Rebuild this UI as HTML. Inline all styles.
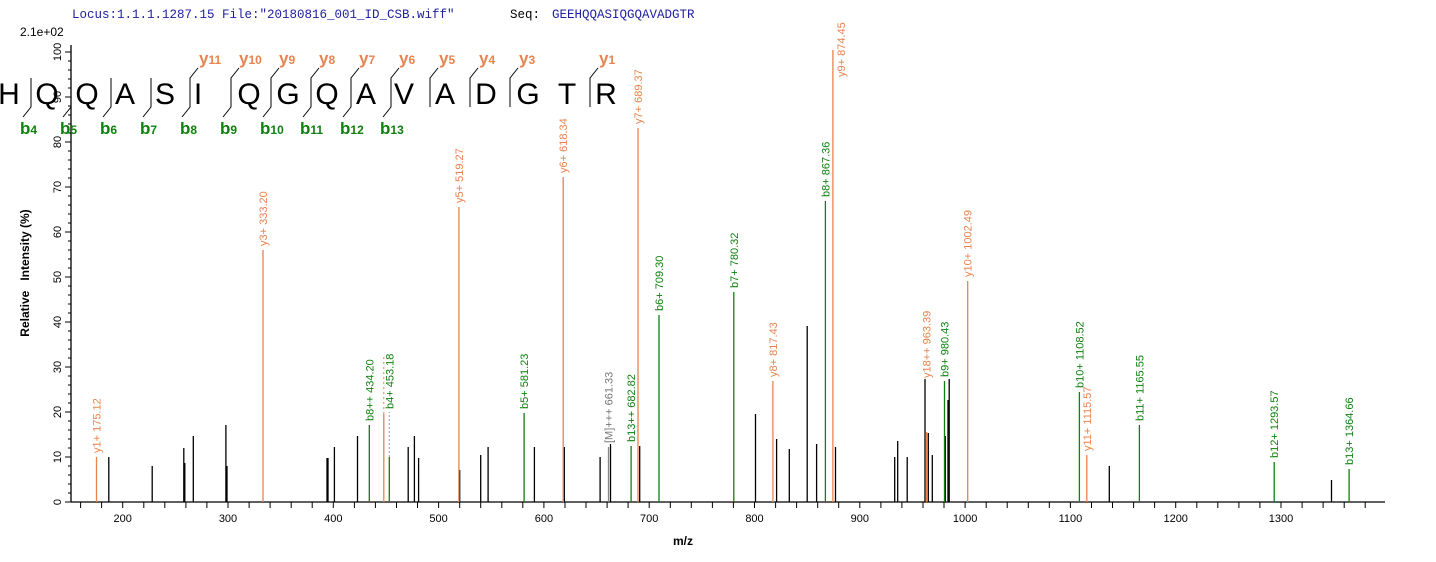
<!DOCTYPE html>
<html><head><meta charset="utf-8"><style>
html,body{margin:0;padding:0;background:#fff;}
svg{display:block;font-family:"Liberation Sans",Arial,sans-serif;}
.o{stroke:#e8834e;stroke-width:1.3}
.g{stroke:#108010;stroke-width:1.3}
.k{stroke:#000;stroke-width:1.3}
.gr{stroke:#888;stroke-width:1.3}
.lo{fill:#e8834e;font-size:11px}
.lg{fill:#108010;font-size:11px}
.lk{fill:#777;font-size:11px}
.tk{font-size:11px;fill:#000}
.seq{font-size:30px;fill:#000}
.yl{font-size:17px;font-weight:bold;fill:#e8834e}
.bl{font-size:17px;font-weight:bold;fill:#108010}
.sub{font-size:12px}
</style></head><body>
<svg width="1436" height="562" viewBox="0 0 1436 562">
<text x="72" y="18" font-family="Liberation Mono,monospace" font-size="12.5" fill="#2020a0">Locus:1.1.1.1287.15 File:"20180816_001_ID_CSB.wiff"</text>
<text x="510" y="18" font-family="Liberation Mono,monospace" font-size="12.5" fill="#000">Seq:</text>
<text x="552" y="18" font-family="Liberation Mono,monospace" font-size="12.5" fill="#2020a0">GEEHQQASIQGQAVADGTR</text>
<text x="20" y="36" font-size="12">2.1e+02</text>

<line x1="71" y1="45" x2="71" y2="502" stroke="#000" stroke-width="1.3"/>
<line x1="71" y1="502" x2="1385" y2="502" stroke="#000" stroke-width="1.3"/>
<g stroke="#000" stroke-width="1">
<line x1="65" y1="502" x2="71" y2="502"/><line x1="65" y1="457" x2="71" y2="457"/><line x1="65" y1="412" x2="71" y2="412"/><line x1="65" y1="367" x2="71" y2="367"/><line x1="65" y1="322" x2="71" y2="322"/><line x1="65" y1="277" x2="71" y2="277"/><line x1="65" y1="232" x2="71" y2="232"/><line x1="65" y1="187" x2="71" y2="187"/><line x1="65" y1="142" x2="71" y2="142"/><line x1="65" y1="97" x2="71" y2="97"/><line x1="65" y1="52" x2="71" y2="52"/>
<line x1="68" y1="493" x2="71" y2="493"/><line x1="68" y1="484" x2="71" y2="484"/><line x1="68" y1="475" x2="71" y2="475"/><line x1="68" y1="466" x2="71" y2="466"/>
<line x1="68" y1="448" x2="71" y2="448"/><line x1="68" y1="439" x2="71" y2="439"/><line x1="68" y1="430" x2="71" y2="430"/><line x1="68" y1="421" x2="71" y2="421"/>
<line x1="68" y1="403" x2="71" y2="403"/><line x1="68" y1="394" x2="71" y2="394"/><line x1="68" y1="385" x2="71" y2="385"/><line x1="68" y1="376" x2="71" y2="376"/>
<line x1="68" y1="358" x2="71" y2="358"/><line x1="68" y1="349" x2="71" y2="349"/><line x1="68" y1="340" x2="71" y2="340"/><line x1="68" y1="331" x2="71" y2="331"/>
<line x1="68" y1="313" x2="71" y2="313"/><line x1="68" y1="304" x2="71" y2="304"/><line x1="68" y1="295" x2="71" y2="295"/><line x1="68" y1="286" x2="71" y2="286"/>
<line x1="68" y1="268" x2="71" y2="268"/><line x1="68" y1="259" x2="71" y2="259"/><line x1="68" y1="250" x2="71" y2="250"/><line x1="68" y1="241" x2="71" y2="241"/>
<line x1="68" y1="223" x2="71" y2="223"/><line x1="68" y1="214" x2="71" y2="214"/><line x1="68" y1="205" x2="71" y2="205"/><line x1="68" y1="196" x2="71" y2="196"/>
<line x1="68" y1="178" x2="71" y2="178"/><line x1="68" y1="169" x2="71" y2="169"/><line x1="68" y1="160" x2="71" y2="160"/><line x1="68" y1="151" x2="71" y2="151"/>
<line x1="68" y1="133" x2="71" y2="133"/><line x1="68" y1="124" x2="71" y2="124"/><line x1="68" y1="115" x2="71" y2="115"/><line x1="68" y1="106" x2="71" y2="106"/>
<line x1="68" y1="88" x2="71" y2="88"/><line x1="68" y1="79" x2="71" y2="79"/><line x1="68" y1="70" x2="71" y2="70"/><line x1="68" y1="61" x2="71" y2="61"/>
</g>
<g class="tk" text-anchor="middle">
<text transform="translate(61,502) rotate(-90)">0</text>
<text transform="translate(61,457) rotate(-90)">10</text>
<text transform="translate(61,412) rotate(-90)">20</text>
<text transform="translate(61,367) rotate(-90)">30</text>
<text transform="translate(61,322) rotate(-90)">40</text>
<text transform="translate(61,277) rotate(-90)">50</text>
<text transform="translate(61,232) rotate(-90)">60</text>
<text transform="translate(61,187) rotate(-90)">70</text>
<text transform="translate(61,142) rotate(-90)">80</text>
<text transform="translate(61,97) rotate(-90)">90</text>
<text transform="translate(61,52) rotate(-90)">100</text>
</g>
<g stroke="#000" stroke-width="1">
<line x1="80.6" y1="502" x2="80.6" y2="508"/><line x1="101.6" y1="502" x2="101.6" y2="508"/><line x1="122.7" y1="502" x2="122.7" y2="508"/><line x1="143.8" y1="502" x2="143.8" y2="508"/><line x1="164.8" y1="502" x2="164.8" y2="508"/><line x1="185.9" y1="502" x2="185.9" y2="508"/><line x1="206.9" y1="502" x2="206.9" y2="508"/><line x1="228" y1="502" x2="228" y2="508"/><line x1="249.1" y1="502" x2="249.1" y2="508"/><line x1="270.1" y1="502" x2="270.1" y2="508"/><line x1="291.2" y1="502" x2="291.2" y2="508"/><line x1="312.2" y1="502" x2="312.2" y2="508"/><line x1="333.3" y1="502" x2="333.3" y2="508"/><line x1="354.4" y1="502" x2="354.4" y2="508"/><line x1="375.4" y1="502" x2="375.4" y2="508"/><line x1="396.5" y1="502" x2="396.5" y2="508"/><line x1="417.5" y1="502" x2="417.5" y2="508"/><line x1="438.6" y1="502" x2="438.6" y2="508"/><line x1="459.7" y1="502" x2="459.7" y2="508"/><line x1="480.7" y1="502" x2="480.7" y2="508"/><line x1="501.8" y1="502" x2="501.8" y2="508"/><line x1="522.8" y1="502" x2="522.8" y2="508"/><line x1="543.9" y1="502" x2="543.9" y2="508"/><line x1="565" y1="502" x2="565" y2="508"/><line x1="586" y1="502" x2="586" y2="508"/><line x1="607.1" y1="502" x2="607.1" y2="508"/><line x1="628.1" y1="502" x2="628.1" y2="508"/><line x1="649.2" y1="502" x2="649.2" y2="508"/><line x1="670.3" y1="502" x2="670.3" y2="508"/><line x1="691.3" y1="502" x2="691.3" y2="508"/><line x1="712.4" y1="502" x2="712.4" y2="508"/><line x1="733.4" y1="502" x2="733.4" y2="508"/><line x1="754.5" y1="502" x2="754.5" y2="508"/><line x1="775.6" y1="502" x2="775.6" y2="508"/><line x1="796.6" y1="502" x2="796.6" y2="508"/><line x1="817.7" y1="502" x2="817.7" y2="508"/><line x1="838.7" y1="502" x2="838.7" y2="508"/><line x1="859.8" y1="502" x2="859.8" y2="508"/><line x1="880.9" y1="502" x2="880.9" y2="508"/><line x1="901.9" y1="502" x2="901.9" y2="508"/><line x1="923" y1="502" x2="923" y2="508"/><line x1="944" y1="502" x2="944" y2="508"/><line x1="965.1" y1="502" x2="965.1" y2="508"/><line x1="986.2" y1="502" x2="986.2" y2="508"/><line x1="1007.2" y1="502" x2="1007.2" y2="508"/><line x1="1028.3" y1="502" x2="1028.3" y2="508"/><line x1="1049.3" y1="502" x2="1049.3" y2="508"/><line x1="1070.4" y1="502" x2="1070.4" y2="508"/><line x1="1091.5" y1="502" x2="1091.5" y2="508"/><line x1="1112.5" y1="502" x2="1112.5" y2="508"/><line x1="1133.6" y1="502" x2="1133.6" y2="508"/><line x1="1154.6" y1="502" x2="1154.6" y2="508"/><line x1="1175.7" y1="502" x2="1175.7" y2="508"/><line x1="1196.8" y1="502" x2="1196.8" y2="508"/><line x1="1217.8" y1="502" x2="1217.8" y2="508"/><line x1="1238.9" y1="502" x2="1238.9" y2="508"/><line x1="1259.9" y1="502" x2="1259.9" y2="508"/><line x1="1281" y1="502" x2="1281" y2="508"/><line x1="1302.1" y1="502" x2="1302.1" y2="508"/><line x1="1323.1" y1="502" x2="1323.1" y2="508"/><line x1="1344.2" y1="502" x2="1344.2" y2="508"/><line x1="1365.2" y1="502" x2="1365.2" y2="508"/>
</g>
<g class="tk" text-anchor="middle">
<text x="122.7" y="522">200</text><text x="228" y="522">300</text><text x="333.3" y="522">400</text><text x="438.6" y="522">500</text><text x="543.9" y="522">600</text><text x="649.2" y="522">700</text><text x="754.5" y="522">800</text><text x="859.8" y="522">900</text><text x="965.1" y="522">1000</text><text x="1070.4" y="522">1100</text><text x="1175.7" y="522">1200</text><text x="1281" y="522">1300</text>
</g>
<text x="683" y="545" font-size="12" font-weight="bold" text-anchor="middle">m/z</text>
<text transform="translate(29,273) rotate(-90)" font-size="12" font-weight="bold" text-anchor="middle" xml:space="preserve">Relative   Intensity (%)</text>

<g class="k">
<line x1="108.8" y1="502" x2="108.8" y2="457"/><line x1="152.2" y1="502" x2="152.2" y2="466"/>
<line x1="183.8" y1="502" x2="183.8" y2="448"/><line x1="184.8" y1="502" x2="184.8" y2="463"/>
<line x1="193.3" y1="502" x2="193.3" y2="436"/><line x1="225.9" y1="502" x2="225.9" y2="425"/><line x1="227" y1="502" x2="227" y2="466"/>
<line x1="327" y1="502" x2="327" y2="458"/><line x1="328" y1="502" x2="328" y2="458"/><line x1="334.4" y1="502" x2="334.4" y2="447"/>
<line x1="357.5" y1="502" x2="357.5" y2="436"/><line x1="408.2" y1="502" x2="408.2" y2="447"/><line x1="414.4" y1="502" x2="414.4" y2="436"/><line x1="418.6" y1="502" x2="418.6" y2="458"/>
<line x1="459.7" y1="502" x2="459.7" y2="470"/><line x1="480.7" y1="502" x2="480.7" y2="455"/><line x1="488.1" y1="502" x2="488.1" y2="447"/>
<line x1="534.4" y1="502" x2="534.4" y2="447"/><line x1="564.3" y1="502" x2="564.3" y2="447"/><line x1="600.1" y1="502" x2="600.1" y2="457"/>
<line x1="610.5" y1="502" x2="610.5" y2="444"/><line x1="639.7" y1="502" x2="639.7" y2="446"/>
<line x1="755.5" y1="502" x2="755.5" y2="414"/><line x1="776.6" y1="502" x2="776.6" y2="439"/><line x1="789.3" y1="502" x2="789.3" y2="449"/>
<line x1="807.2" y1="502" x2="807.2" y2="326"/><line x1="816.6" y1="502" x2="816.6" y2="444"/><line x1="835.5" y1="502" x2="835.5" y2="447"/>
<line x1="894.7" y1="502" x2="894.7" y2="457"/><line x1="897.7" y1="502" x2="897.7" y2="441"/><line x1="907.2" y1="502" x2="907.2" y2="457"/>
<line x1="925" y1="502" x2="925" y2="379"/><line x1="928.3" y1="502" x2="928.3" y2="433"/><line x1="932.3" y1="502" x2="932.3" y2="455"/>
<line x1="945.3" y1="502" x2="945.3" y2="436"/><line x1="948" y1="502" x2="948" y2="400"/><line x1="949.2" y1="502" x2="949.2" y2="379"/>
<line x1="1109.3" y1="502" x2="1109.3" y2="466"/><line x1="1331.5" y1="502" x2="1331.5" y2="480"/>
</g>
<line x1="389.3" y1="457" x2="389.3" y2="412" stroke="#999" stroke-width="1" stroke-dasharray="2,2"/>
<line x1="383.8" y1="414" x2="383.8" y2="355" stroke="#e8834e" stroke-width="1" stroke-dasharray="2,3"/>
<line class="gr" x1="608.5" y1="502" x2="608.5" y2="447"/>
<text class="lk" transform="translate(612.5,443) rotate(-90)">[M]+++ 661.33</text>

<g class="o">
<line x1="96.5" y1="502" x2="96.5" y2="457"/><line x1="263" y1="502" x2="263" y2="250"/><line x1="383.8" y1="502" x2="383.8" y2="414"/>
<line x1="458.9" y1="502" x2="458.9" y2="207"/><line x1="563.2" y1="502" x2="563.2" y2="177"/><line x1="638" y1="502" x2="638" y2="128"/>
<line x1="772.9" y1="502" x2="772.9" y2="381"/><line x1="832.9" y1="502" x2="832.9" y2="50"/><line x1="926.6" y1="502" x2="926.6" y2="432"/>
<line x1="967.7" y1="502" x2="967.7" y2="281"/><line x1="1086.8" y1="502" x2="1086.8" y2="455"/>
</g>
<g class="lo">
<text transform="translate(100.5,453) rotate(-90)">y1+ 175.12</text>
<text transform="translate(267,246) rotate(-90)">y3+ 333.20</text>
<text transform="translate(462.9,203) rotate(-90)">y5+ 519.27</text>
<text transform="translate(567.2,173) rotate(-90)">y6+ 618.34</text>
<text transform="translate(642,124) rotate(-90)">y7+ 689.37</text>
<text transform="translate(776.9,377) rotate(-90)">y8+ 817.43</text>
<text transform="translate(845,77) rotate(-90)">y9+ 874.45</text>
<text transform="translate(930.6,378) rotate(-90)">y18++ 963.39</text>
<text transform="translate(971.7,277) rotate(-90)">y10+ 1002.49</text>
<text transform="translate(1090.8,451) rotate(-90)">y11+ 1115.57</text>
</g>
<g class="g">
<line x1="369.3" y1="502" x2="369.3" y2="425"/><line x1="389.3" y1="502" x2="389.3" y2="457"/><line x1="524.1" y1="502" x2="524.1" y2="413"/>
<line x1="631.1" y1="502" x2="631.1" y2="446"/><line x1="659" y1="502" x2="659" y2="315"/><line x1="733.8" y1="502" x2="733.8" y2="292"/>
<line x1="825.4" y1="502" x2="825.4" y2="201"/><line x1="944.5" y1="502" x2="944.5" y2="381"/><line x1="1079.4" y1="502" x2="1079.4" y2="392"/>
<line x1="1139.4" y1="502" x2="1139.4" y2="425"/><line x1="1274.2" y1="502" x2="1274.2" y2="462"/><line x1="1349.1" y1="502" x2="1349.1" y2="469"/>
</g>
<g class="lg">
<text transform="translate(373.3,421) rotate(-90)">b8++ 434.20</text>
<text transform="translate(393.3,409) rotate(-90)">b4+ 453.18</text>
<text transform="translate(528.1,409) rotate(-90)">b5+ 581.23</text>
<text transform="translate(635.1,442) rotate(-90)">b13++ 682.82</text>
<text transform="translate(663,311) rotate(-90)">b6+ 709.30</text>
<text transform="translate(737.8,288) rotate(-90)">b7+ 780.32</text>
<text transform="translate(829.4,197) rotate(-90)">b8+ 867.36</text>
<text transform="translate(948.5,377) rotate(-90)">b9+ 980.43</text>
<text transform="translate(1083.4,388) rotate(-90)">b10+ 1108.52</text>
<text transform="translate(1143.4,421) rotate(-90)">b11+ 1165.55</text>
<text transform="translate(1278.2,458) rotate(-90)">b12+ 1293.57</text>
<text transform="translate(1353.1,465) rotate(-90)">b13+ 1364.66</text>
</g>

<g class="seq" text-anchor="middle">
<text x="9" y="104">H</text><text x="47" y="104">Q</text><text x="87" y="104">Q</text><text x="125" y="104">A</text><text x="165" y="104">S</text><text x="198" y="104">I</text><text x="249" y="104">Q</text><text x="288" y="104">G</text><text x="327" y="104">Q</text><text x="366" y="104">A</text><text x="404" y="104">V</text><text x="445" y="104">A</text><text x="486" y="104">D</text><text x="528" y="104">G</text><text x="567" y="104">T</text><text x="606" y="104">R</text>
</g>
<g stroke="#000" stroke-width="1" fill="none">
<polyline points="31,78 31,107 23,117"/>
<polyline points="71,78 71,107 63,117"/>
<polyline points="111,78 111,107 103,117"/>
<polyline points="151,78 151,107 143,117"/>
<polyline points="198,68 190,78 190,107 182,117"/>
<polyline points="239,68 231,78 231,107 223,117"/>
<polyline points="279,68 271,78 271,107 263,117"/>
<polyline points="319,68 311,78 311,107 303,117"/>
<polyline points="359,68 351,78 351,107 343,117"/>
<polyline points="399,68 391,78 391,107 383,117"/>
<polyline points="438,68 430,78 430,107"/>
<polyline points="478,68 470,78 470,107"/>
<polyline points="518,68 510,78 510,107"/>
<polyline points="598,68 590,78 590,107"/>
</g>
<g class="yl">
<text x="199" y="64">y<tspan class="sub">11</tspan></text>
<text x="239" y="64">y<tspan class="sub">10</tspan></text>
<text x="279" y="64">y<tspan class="sub">9</tspan></text>
<text x="319" y="64">y<tspan class="sub">8</tspan></text>
<text x="359" y="64">y<tspan class="sub">7</tspan></text>
<text x="399" y="64">y<tspan class="sub">6</tspan></text>
<text x="439" y="64">y<tspan class="sub">5</tspan></text>
<text x="479" y="64">y<tspan class="sub">4</tspan></text>
<text x="519" y="64">y<tspan class="sub">3</tspan></text>
<text x="599" y="64">y<tspan class="sub">1</tspan></text>
</g>
<g class="bl">
<text x="20" y="134">b<tspan class="sub">4</tspan></text>
<text x="60" y="134">b<tspan class="sub">5</tspan></text>
<text x="100" y="134">b<tspan class="sub">6</tspan></text>
<text x="140" y="134">b<tspan class="sub">7</tspan></text>
<text x="180" y="134">b<tspan class="sub">8</tspan></text>
<text x="220" y="134">b<tspan class="sub">9</tspan></text>
<text x="260" y="134">b<tspan class="sub">10</tspan></text>
<text x="300" y="134">b<tspan class="sub">11</tspan></text>
<text x="340" y="134">b<tspan class="sub">12</tspan></text>
<text x="380" y="134">b<tspan class="sub">13</tspan></text>
</g>
</svg>
</body></html>
